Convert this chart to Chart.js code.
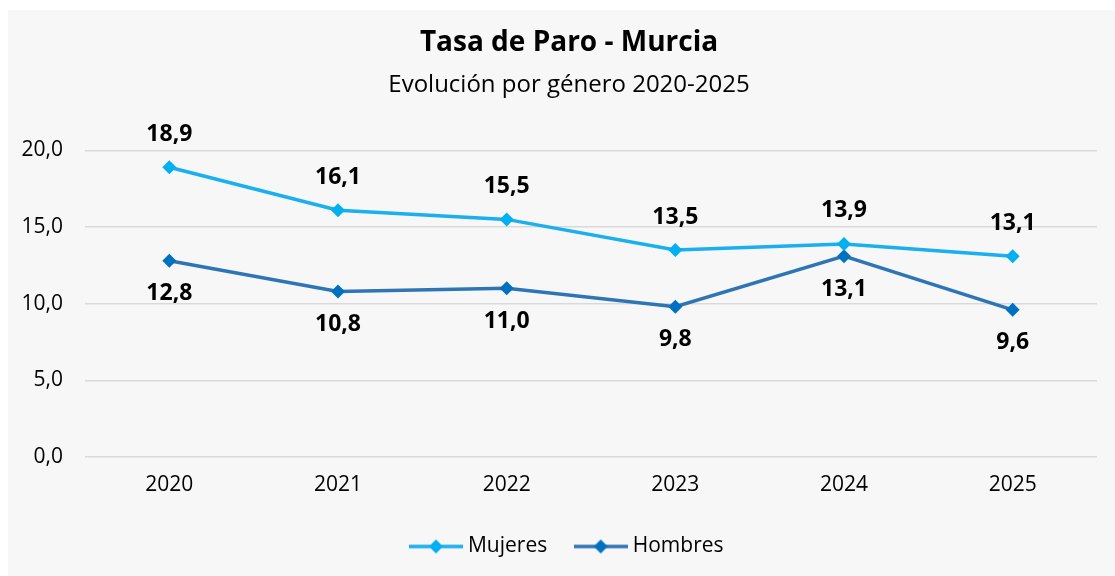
<!DOCTYPE html>
<html>
<head>
<meta charset="utf-8">
<script src="https://cdn.jsdelivr.net/npm/chart.js@4/dist/chart.umd.min.js"></script>
<style>
html,body{margin:0;padding:0;background:#fff;}
#wrap{width:1115px;height:576px;position:relative;}
</style>
</head>
<body>
<div id="wrap"><canvas id="c" width="1115" height="576"></canvas></div>
<script>
const years = ['2020','2021','2022','2023','2024','2025'];
const mujeres = [18.9, 16.1, 15.5, 13.5, 13.9, 13.1];
const hombres = [12.8, 10.8, 11.0, 9.8, 13.1, 9.6];
const yTicks = [0, 5, 10, 15, 20];

const FONT = "'Open Sans', 'Noto Sans', sans-serif";
const fmt = v => Number(v).toFixed(1).replace('.', ',');

const colM = '#1AAFEF', mkM = '#00B0F0';
const colH = '#2E75B6', mkH = '#0070C0';

// Linear scale whose tick labels are not clipped to the axis box
class NoClipLinear extends Chart.LinearScale {
  _computeLabelArea(){ return undefined; }
}
NoClipLinear.id = 'nocliplinear';
NoClipLinear.defaults = Chart.LinearScale.defaults;
Chart.register(NoClipLinear);

function legendImg(line, mark){
  const c = document.createElement('canvas');
  c.width = 54; c.height = 16;
  const g = c.getContext('2d');
  g.strokeStyle = line; g.lineWidth = 3.5;
  g.beginPath(); g.moveTo(0, 8); g.lineTo(54, 8); g.stroke();
  g.fillStyle = mark;
  g.beginPath(); g.moveTo(27, 1); g.lineTo(34, 8); g.lineTo(27, 15); g.lineTo(20, 8); g.closePath(); g.fill();
  return c;
}
const imgM = legendImg(colM, mkM), imgH = legendImg(colH, mkH);

const bgPlugin = {
  id: 'bg',
  beforeDraw(chart){
    const ctx = chart.ctx;
    ctx.save();
    ctx.fillStyle = '#ffffff';
    ctx.fillRect(0, 0, chart.width, chart.height);
    ctx.fillStyle = '#F7F7F7';
    ctx.fillRect(8, 10, chart.width - 8, chart.height - 10);
    ctx.restore();
  }
};

const labelPlugin = {
  id: 'vlabels',
  afterDatasetsDraw(chart){
    const ctx = chart.ctx;
    ctx.save();
    ctx.font = "bold 23px " + FONT;
    ctx.fillStyle = '#000';
    ctx.textAlign = 'center';
    ctx.textBaseline = 'middle';
    chart.data.datasets.forEach((ds, i) => {
      const meta = chart.getDatasetMeta(i);
      const off = ds.labelOffset;
      meta.data.forEach((pt, j) => {
        ctx.fillText(fmt(ds.data[j]), pt.x, pt.y + off);
      });
    });
    ctx.restore();
  }
};

new Chart(document.getElementById('c'), {
  type: 'line',
  data: {
    labels: years,
    datasets: [
      { label: 'Mujeres', data: mujeres, borderColor: colM, backgroundColor: mkM,
        borderWidth: 3.5, pointStyle: 'rectRot', pointRadius: 7, pointBorderWidth: 0,
        pointBackgroundColor: mkM, tension: 0, labelOffset: -33, legendImg: imgM },
      { label: 'Hombres', data: hombres, borderColor: colH, backgroundColor: mkH,
        borderWidth: 3.5, pointStyle: 'rectRot', pointRadius: 7, pointBorderWidth: 0,
        pointBackgroundColor: mkH, tension: 0, labelOffset: 33, legendImg: imgH }
    ]
  },
  options: {
    responsive: false,
    animation: false,
    layout: { padding: { left: 41, right: 18, top: 0, bottom: 9 } },
    plugins: {
      title: { display: true, text: 'Tasa de Paro - Murcia', color: '#000',
        font: { family: FONT, size: 28, weight: 'bold' }, padding: { top: 26, bottom: 0 } },
      subtitle: { display: true, text: 'Evolución por género 2020-2025', color: '#000',
        font: { family: FONT, size: 24 }, padding: { top: 11, bottom: 51 } },
      legend: {
        position: 'bottom',
        labels: {
          usePointStyle: true, pointStyleWidth: 43, boxHeight: 16,
          padding: 32, color: '#000',
          font: { family: FONT, size: 21 },
          generateLabels(chart){
            return chart.data.datasets.map((ds, i) => ({
              text: ds.label, pointStyle: ds.legendImg, fillStyle: ds.borderColor,
              strokeStyle: ds.borderColor, lineWidth: 0, hidden: false, datasetIndex: i, fontColor: '#000'
            }));
          }
        }
      },
      tooltip: { enabled: false }
    },
    scales: {
      x: {
        offset: true,
        grid: { display: false, drawTicks: false },
        border: { display: false },
        ticks: { color: '#000', font: { family: FONT, size: 21 }, padding: 15 },
        afterFit(s){ s.height = 47; }
      },
      y: {
        type: 'nocliplinear',
        min: 0, max: 20,
        afterBuildTicks(s){ s.ticks = yTicks.map(v => ({ value: v })); },
        grid: { color: '#D9D9D9', lineWidth: 1.5, drawTicks: false },
        border: { display: false },
        ticks: { color: '#000', font: { family: FONT, size: 21 }, padding: 22,
          callback: v => fmt(v) },
        afterFit(s){ s.width = 44; }
      }
    }
  },
  plugins: [bgPlugin, labelPlugin]
});
</script>
</body>
</html>
